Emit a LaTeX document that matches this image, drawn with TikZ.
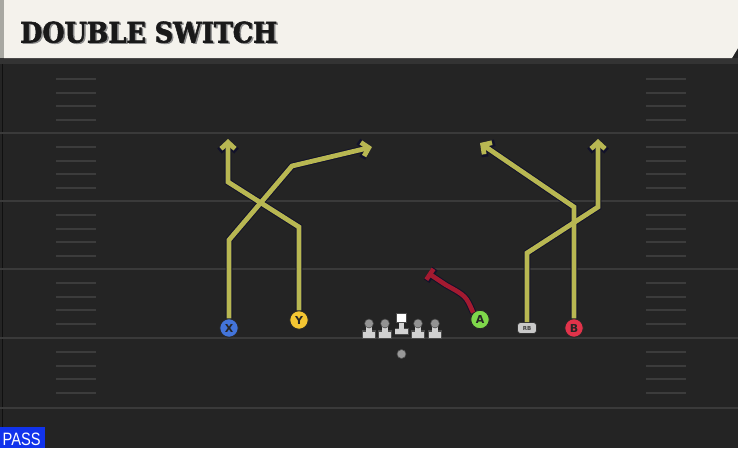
\documentclass[tikz,border=0pt]{standalone}
\usepackage{fontspec}
\usetikzlibrary{arrows.meta}
\newfontfamily\titlefont{DejaVu Serif}[BoldFeatures={FakeBold=2}]
\newfontfamily\labelfont{DejaVu Sans}
\newfontfamily\passfont{Liberation Sans}
\definecolor{fieldbg}{HTML}{242424}
\definecolor{fieldline}{HTML}{3A3A3A}
\definecolor{hashc}{HTML}{3C3C3C}
\definecolor{titlebg}{HTML}{F4F2EC}
\definecolor{stripc}{HTML}{A8A8A2}
\definecolor{routey}{HTML}{B8B752}
\definecolor{router}{HTML}{A31A30}
\definecolor{outl}{HTML}{12122A}
\definecolor{xblue}{HTML}{4374DA}
\definecolor{yyellow}{HTML}{F4C632}
\definecolor{agreen}{HTML}{7FD84B}
\definecolor{bred}{HTML}{E1334A}
\definecolor{rbgray}{HTML}{C9C9C9}
\definecolor{olgray}{HTML}{D2D2D2}
\definecolor{passblue}{HTML}{1133EC}
\tikzset{
  player/.style={circle, draw=black!85, line width=0.9pt, minimum size=18.5pt, inner sep=0pt,
    font=\labelfont\bfseries\fontsize{11}{11}\selectfont, text=black!85},
  routeout/.style={draw=outl, line width=6.8pt, line join=miter, -{Straight Barb[length=7.5pt,width=17pt,line width=6.8pt]}},
  routein/.style={draw=routey, line width=4.8pt, line join=miter, -{Straight Barb[length=6.5pt,width=14pt,line width=4.8pt]}},
  blockout/.style={draw=outl, line width=6.6pt, -{Bar[width=15pt,line width=6.6pt]}},
  blockin/.style={draw=router, line width=4.6pt, -{Bar[width=13pt,line width=4.6pt]}},
  fline/.style={draw=fieldline, line width=1.6pt},
  hashmark/.style={draw=hashc, line width=1.8pt},
}
\begin{document}
\begin{tikzpicture}[x=1pt,y=-1pt]
\useasboundingbox (0,0) rectangle (738,448);
\fill[fieldbg] (0,0) rectangle (738,448);
\draw[draw=black!55!fieldbg, line width=1pt] (2,58) -- (2,448);
% yard lines
\foreach \yy in {133,201,269,338,408} \draw[fline] (0,\yy) -- (738,\yy);
% hash marks
\foreach \bb in {65,133,201,269,338} {
  \foreach \oo in {14,28,41,55} {
    \draw[hashmark] (56,\bb+\oo) -- (96,\bb+\oo);
    \draw[hashmark] (646,\bb+\oo) -- (686,\bb+\oo);
  }
}
% title bar
\fill[black!80] (0,58) rectangle (738,64);
\fill[titlebg] (4,0) -- (738,0) -- (738,48) -- (732,58) -- (4,58) -- cycle;
\fill[stripc] (0,0) rectangle (4,58);
\node[anchor=base west, inner sep=0pt, text=black!45] at (21.5,43.5) {\resizebox{257pt}{21pt}{\titlefont\bfseries DOUBLE SWITCH}};
\node[anchor=base west, inner sep=0pt, text=black!90] (title) at (20,42.5) {\resizebox{257pt}{21pt}{\titlefont\bfseries DOUBLE SWITCH}};
% offensive line
\foreach \lx in {369,385,418,435} {
  \fill[black!70] (\lx-7,330) rectangle (\lx+7,339);
  \fill[olgray] (\lx-6.3,331.5) rectangle (\lx+6.3,338);
  \fill[olgray] (\lx-2.8,324) rectangle (\lx+2.8,333);
  \fill[black!70] (\lx,323.5) circle (4.8);
  \fill[gray!85] (\lx,323.5) circle (4);
}
\fill[black!70] (394.5,328) rectangle (408.5,335);
\fill[olgray] (395.2,328.8) rectangle (407.8,334.2);
\fill[olgray] (398.7,321) rectangle (404.3,330);
\fill[black!70] (396,313) rectangle (407,323);
\fill[white] (397,314) rectangle (406,322);
% ball
\node[circle, fill=gray!80, draw=black!70, line width=0.6pt, minimum size=9pt, inner sep=0pt] (ball) at (401.5,354) {};
% players
\node[player, fill=xblue] (X) at (229,328) {X};
\node[player, fill=yyellow] (Y) at (299,320) {Y};
\node[player, fill=agreen] (A) at (480,319.5) {A};
\node[player, fill=bred] (B) at (574,328) {B};
\node[rounded corners=3pt, fill=rbgray, draw=black!80, line width=0.7pt, minimum width=19pt, minimum height=11pt, inner sep=0pt,
  font=\labelfont\bfseries\fontsize{5.5}{5.5}\selectfont, text=black!75] (RB) at (527,328) {RB};
% route waypoints
\coordinate (x1) at (229,240);
\coordinate (x2) at (292,166);
\coordinate (x3) at (372,147);
\coordinate (y1) at (299,227);
\coordinate (y2) at (228,182);
\coordinate (y3) at (228,139);
\coordinate (r1) at (527,253);
\coordinate (r2) at (598,207);
\coordinate (r3) at (598,139);
\coordinate (b1) at (574,207);
\coordinate (b2) at (480,143);
\coordinate (a1) at (446,285);
\coordinate (a2) at (428,273);
% outlines
\draw[routeout] (X.north) -- (x1) -- (x2) -- (x3);
\draw[routeout] (Y.north) -- (y1) -- (y2) -- (y3);
\draw[routeout] (RB.north) -- (r1) -- (r2) -- (r3);
\draw[routeout] (B.north) -- (b1) -- (b2);
% fills
\draw[routein] (X.north) -- (x1) -- (x2) -- (x3);
\draw[routein] (Y.north) -- (y1) -- (y2) -- (y3);
\draw[routein] (RB.north) -- (r1) -- (r2) -- (r3);
\draw[routein] (B.north) -- (b1) -- (b2);
% A block
\draw[blockout] (A.north west) .. controls (466,296) .. (a1) -- (a2);
\draw[blockin] (A.north west) .. controls (466,296) .. (a1) -- (a2);
% PASS label
\fill[passblue] (0,427) rectangle (45,448);
\node[anchor=base west, inner sep=0pt, text=white] (pass) at (2.5,445) {\resizebox{38pt}{12.5pt}{\passfont PASS}};
\end{tikzpicture}
\end{document}
